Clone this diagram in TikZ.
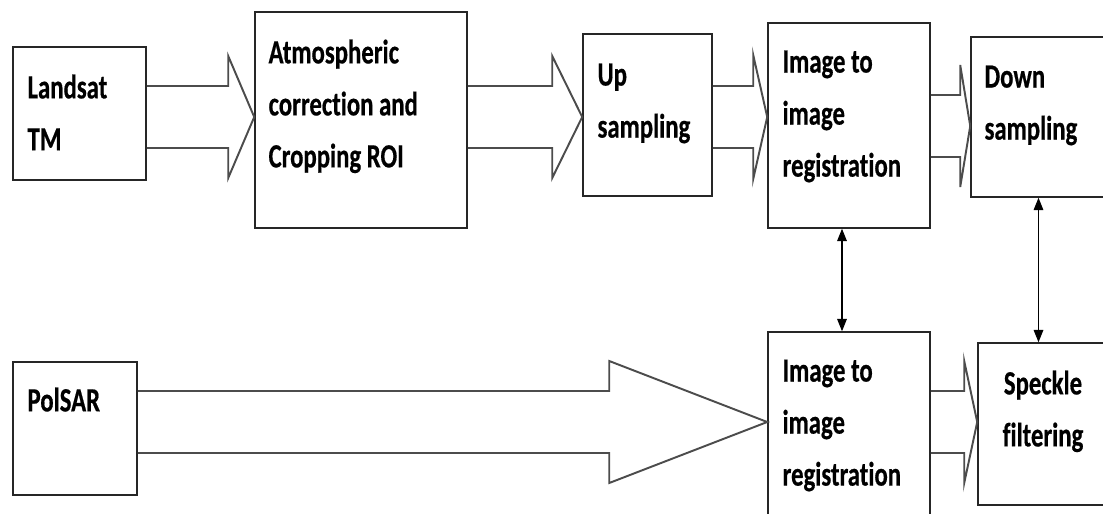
\documentclass[tikz,border=0pt]{standalone}
\usepackage{fontspec}
\setmainfont{Carlito}[FakeStretch=0.73, FakeBold=0.5, Ligatures=NoCommon]
\usepackage{tikz}
\usetikzlibrary{calc}
\usetikzlibrary{arrows.meta}

\tikzset{
    blockbox/.style={draw=black!85, line width=0.9pt, rectangle, inner sep=0pt},
    boxtext/.style={font=\fontsize{19.3}{29.6}\selectfont\bfseries, align=left, inner sep=0pt, anchor=north west},
    fatline/.style={draw=black!70, line width=1.1pt, line join=miter},
    linkarrow/.style={line width=0.6pt, {Triangle[length=7pt,width=5.5pt]}-{Triangle[length=7pt,width=5.5pt]}}
}

\newcommand{\fatarrow}[6]{%
    \draw[fatline] (#1.east |- 0,#3-#4) -- ($(#2.west |- 0,#3-#4)+(-#6,0)$)
        -- ($(#2.west |- 0,#3-#5)+(-#6,0)$) -- (#2.west |- 0,#3)
        -- ($(#2.west |- 0,#3+#5)+(-#6,0)$) -- ($(#2.west |- 0,#3+#4)+(-#6,0)$)
        -- (#1.east |- 0,#3+#4);}

\begin{document}
\begin{tikzpicture}
    [x=0.02cm,y=-0.02cm]
    \useasboundingbox (0,0) rectangle (1103,514);
    \clip (0,0) rectangle (1103,514);
    \node[blockbox, minimum width=2.66cm, minimum height=2.66cm] (lsat) at (79.5,113.5) {};
    \node[blockbox, minimum width=4.24cm, minimum height=4.32cm] (atm) at (361,120) {};
    \node[blockbox, minimum width=2.58cm, minimum height=3.24cm] (up) at (647.5,115) {};
    \node[blockbox, minimum width=3.24cm, minimum height=4.10cm] (regA) at (849,125.5) {};
    \node[blockbox, minimum width=2.70cm, minimum height=3.20cm] (down) at (1038.5,117) {};
    \node[blockbox, minimum width=2.48cm, minimum height=2.66cm] (polsar) at (75,428.5) {};
    \node[blockbox, minimum width=3.24cm, minimum height=4.16cm] (regB) at (849,436) {};
    \node[blockbox, minimum width=2.60cm, minimum height=3.24cm] (speck) at (1043,424) {};
    \node[boxtext] (lsat-t) at ($(lsat.north west)+(15,28)$) {Landsat\\TM};
    \node[boxtext] (atm-t) at ($(atm.north west)+(14,28)$) {Atmospheric\\correction and\\Cropping ROI};
    \node[boxtext] (up-t) at ($(up.north west)+(15,30)$) {Up\\sampling};
    \node[boxtext] (regA-t) at ($(regA.north west)+(15,28)$) {Image to\\image\\registration};
    \node[boxtext] (down-t) at ($(down.north west)+(14,29)$) {Down\\sampling};
    \node[boxtext] (polsar-t) at ($(polsar.north west)+(15,26)$) {PolSAR};
    \node[boxtext] (regB-t) at ($(regB.north west)+(15,28)$) {Image to\\image\\registration};
    \node[boxtext, align=center, anchor=north] (speck-t) at ($(speck.north)+(0,28)$) {Speckle\\filtering};
    \fatarrow{lsat}{atm}{117}{31}{61}{26}
    \fatarrow{atm}{up}{117}{31}{61}{30}
    \fatarrow{up}{regA}{117}{31}{62}{14}
    \fatarrow{regA}{down}{126}{31}{61}{10}
    \fatarrow{polsar}{regB}{422}{31}{61}{158}
    \fatarrow{regB}{speck}{422}{31}{61}{13}
    \draw[linkarrow] ([xshift=-0.14cm]regA.south) -- ([xshift=-0.14cm]regB.north);
    \draw[linkarrow] (down.south) -- (down.south |- speck.north);
\end{tikzpicture}
\end{document}
